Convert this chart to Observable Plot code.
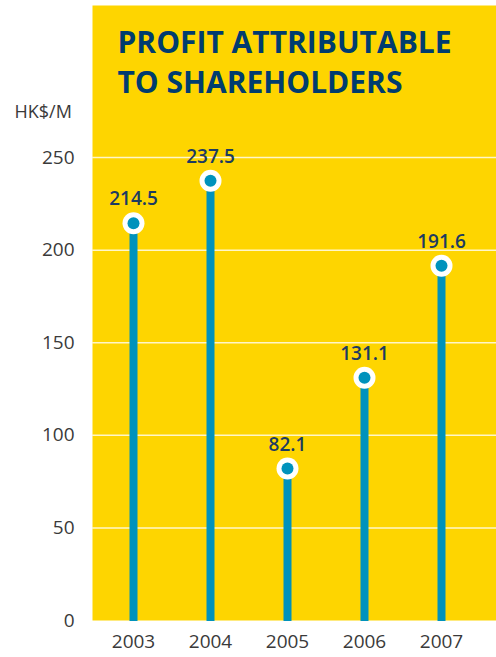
<!DOCTYPE html>
<html>
<head>
<meta charset="utf-8">
<script src="https://cdn.jsdelivr.net/npm/d3@7"></script>
<script src="https://cdn.jsdelivr.net/npm/@observablehq/plot@0.6"></script>
<style>
  html, body { margin: 0; padding: 0; background: #ffffff; }
  #chart svg { display: block; }
</style>
</head>
<body>
<div id="chart"></div>
<script>
const years = ["2003", "2004", "2005", "2006", "2007"];
const profits = [214.5, 237.5, 82.1, 131.1, 191.6];
const yTicks = [0, 50, 100, 150, 200, 250];
const titleLines = ["PROFIT ATTRIBUTABLE", "TO SHAREHOLDERS"];
const unitLabel = "HK$/M";

const data = years.map((y, i) => ({year: y, value: profits[i]}));

const YELLOW = "#FED500";
const TEAL = "#0092BC";
const NAVY = "#003C6F";
const LABEL = "#1C3B62";
const GRAY = "#3A3A3A";
const FONT = "'Open Sans', 'Noto Sans', sans-serif";

const chart = Plot.plot({
  width: 496,
  height: 657,
  marginLeft: 92,
  marginRight: 0,
  marginTop: 5,
  marginBottom: 37,
  style: {fontFamily: FONT, background: "#ffffff"},
  x: {type: "point", domain: years, range: [131, 442], padding: 0, label: null},
  y: {domain: [0, 332.1], label: null},
  marks: [
    Plot.frame({fill: YELLOW, stroke: null}),
    Plot.ruleY(yTicks.filter(d => d > 0), {stroke: "#FFF6C8", strokeWidth: 1.5}),
    Plot.axisY(yTicks, {tickSize: 0, tickPadding: 18, fontSize: 19, fill: GRAY, label: null}),
    Plot.axisX(years, {tickSize: 0, tickPadding: 14, fontSize: 19, fill: GRAY, label: null}),
    Plot.ruleX(data, {x: "year", y1: -0.6, y2: "value", stroke: TEAL, strokeWidth: 8}),
    Plot.dot(data, {x: "year", y: "value", r: 11, fill: "#ffffff", stroke: null}),
    Plot.dot(data, {x: "year", y: "value", r: 6, fill: TEAL, stroke: null}),
    Plot.text(data, {x: "year", y: "value", text: d => d.value.toFixed(1), dy: -24, lineAnchor: "middle", fontSize: 19, fill: LABEL, fontWeight: 600}),
    Plot.text([titleLines[0]], {frameAnchor: "top-left", dx: 25, dy: 38, lineAnchor: "middle", textAnchor: "start", fontSize: 30, fontWeight: 700, fill: NAVY}),
    Plot.text([titleLines[1]], {frameAnchor: "top-left", dx: 25, dy: 78, lineAnchor: "middle", textAnchor: "start", fontSize: 30, fontWeight: 700, fill: NAVY}),
    Plot.text([unitLabel], {frameAnchor: "top-left", dx: -78, dy: 107, lineAnchor: "middle", textAnchor: "start", fontSize: 18, fill: GRAY})
  ]
});
document.getElementById("chart").appendChild(chart);
</script>
</body>
</html>
